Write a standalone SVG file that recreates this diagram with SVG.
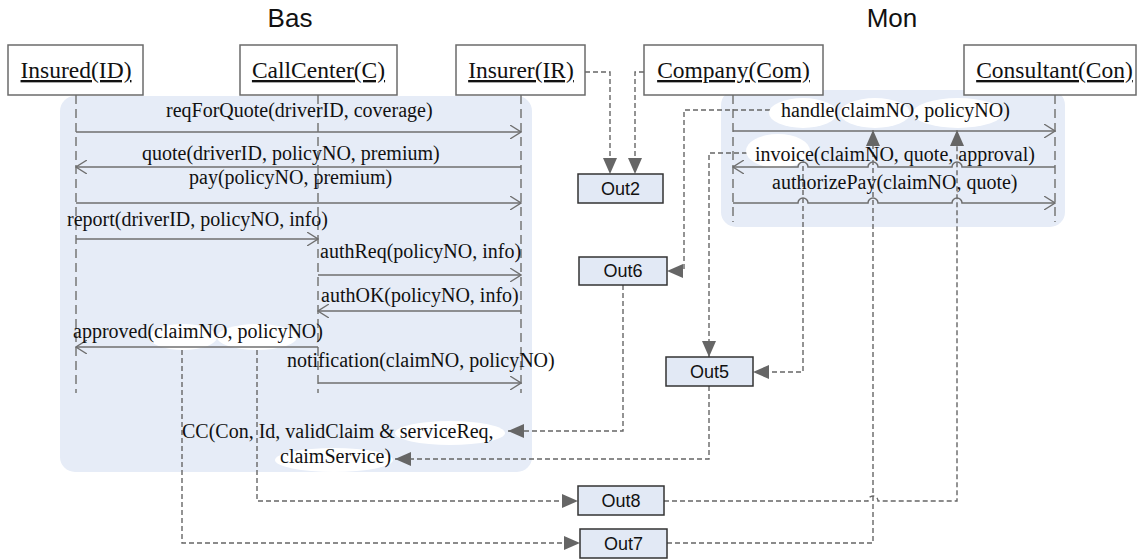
<svg xmlns="http://www.w3.org/2000/svg" width="1140" height="559" viewBox="0 0 1140 559">
  <style>
    .panel { fill: #e6ecf7; }
    .life { fill: #ffffff; stroke: #6b6b6b; stroke-width: 1.5; }
    .lname { font-family: "Liberation Serif", "Times New Roman", serif; font-size: 23.5px; fill: #111; text-anchor: middle; text-decoration: underline; }
    .lifeline { stroke: #777; stroke-width: 1.5; stroke-dasharray: 9 5; fill: none; }
    .msg { stroke: #6f6f6f; stroke-width: 1.5; fill: none; marker-end: url(#open); }
    .mtxt { font-family: "Liberation Serif", "Times New Roman", serif; font-size: 20px; fill: #111; }
    .conn { stroke: #666; stroke-width: 1.4; stroke-dasharray: 5 3; fill: none; marker-end: url(#solid); }
    .hl { fill: #ffffff; }
    .out { fill: #e2e9f5; stroke: #333; stroke-width: 1.5; }
    .otxt { font-family: "Liberation Sans", Arial, sans-serif; font-size: 18px; fill: #111; text-anchor: middle; }
    .title { font-family: "Liberation Sans", Arial, sans-serif; font-size: 26px; fill: #111; text-anchor: middle; }
  </style>
  <defs>
    <marker id="open" viewBox="0 0 12 14" refX="11" refY="7" markerWidth="12" markerHeight="14" markerUnits="userSpaceOnUse" orient="auto">
      <path d="M0,0 L11,7 L0,14" fill="none" stroke="#6f6f6f" stroke-width="1.3"/>
    </marker>
    <marker id="solid" viewBox="0 0 16 14" refX="16" refY="7" markerWidth="16" markerHeight="14" markerUnits="userSpaceOnUse" orient="auto">
      <path d="M0,0 L16,7 L0,14 z" fill="#666" stroke="none"/>
    </marker>
  </defs>

  <!-- titles -->
  <text class="title" x="290" y="27">Bas</text>
  <text class="title" x="892" y="27">Mon</text>

  <!-- background panels -->
  <rect class="panel" x="60" y="96" width="472" height="376" rx="15"/>
  <rect class="panel" x="721" y="90" width="344" height="137" rx="15"/>

  <!-- lifelines -->
  <g id="lifelines">
    <path class="lifeline" d="M76,95 V393"/>
    <path class="lifeline" d="M318,95 V393"/>
    <path class="lifeline" d="M521,95 V393"/>
    <path class="lifeline" d="M733,95 V222"/>
    <path class="lifeline" d="M1055,95 V222"/>
  </g>

  <!-- dashed connectors between labels and Out blocks -->
  <g id="connectors">
    <path class="conn" d="M585,72 H610 V174"/>
    <path class="conn" d="M644,72 H635 V174"/>
    <path class="conn" d="M770,110 H684 V271 H667"/>
    <path class="conn" d="M747,153 H709 V357"/>
    <path class="conn" d="M803,150 V372 H753"/>
    <path class="conn" d="M623,285 V431 H508"/>
    <path class="conn" d="M709,386 V459 H395"/>
    <path class="conn" d="M182,350 V543 H580"/>
    <path class="conn" d="M257,350 V501 H578"/>
    <path class="conn" d="M664,501 H868 A5,5 0 0 1 878,501 H957 V130"/>
    <path class="conn" d="M667,543 H873 V130"/>
  </g>

  <!-- label highlights -->
  <g id="highlights">
    <ellipse class="hl" cx="803" cy="113" rx="34" ry="15"/>
    <ellipse class="hl" cx="875" cy="113" rx="35" ry="15"/>
    <ellipse class="hl" cx="958" cy="113" rx="45" ry="15"/>
    <ellipse class="hl" cx="778" cy="151" rx="32" ry="17"/>
    <ellipse class="hl" cx="183" cy="337" rx="34" ry="13"/>
    <ellipse class="hl" cx="257" cy="337" rx="40" ry="13"/>
    <ellipse class="hl" cx="450" cy="433" rx="55" ry="12"/>
    <ellipse class="hl" cx="334" cy="460" rx="59" ry="12"/>
  </g>

  <!-- messages -->
  <g id="messages">
    <path class="msg" d="M76,132 H521"/>
    <path class="msg" d="M521,167 H76"/>
    <path class="msg" d="M76,203 H521"/>
    <path class="msg" d="M76,239 H318"/>
    <path class="msg" d="M318,275 H521"/>
    <path class="msg" d="M521,311 H318"/>
    <path class="msg" d="M318,347 H76"/>
    <path class="msg" d="M318,383 H521"/>
    <path class="msg" d="M733,131 H1055"/>
    <path class="msg" d="M1055,167 H962 A5,5 0 0 0 952,167 H878 A5,5 0 0 0 868,167 H808 A5,5 0 0 0 798,167 H733"/>
    <path class="msg" d="M733,203 H798 A5,5 0 0 1 808,203 H868 A5,5 0 0 1 878,203 H952 A5,5 0 0 1 962,203 H1055"/>
  </g>

  <g id="message-labels">
    <text class="mtxt" x="166" y="117">reqForQuote(driverID, coverage)</text>
    <text class="mtxt" x="142" y="160">quote(driverID, policyNO, premium)</text>
    <text class="mtxt" x="189" y="184">pay(policyNO, premium)</text>
    <text class="mtxt" x="67" y="226">report(driverID, policyNO, info)</text>
    <text class="mtxt" x="320" y="258">authReq(policyNO, info)</text>
    <text class="mtxt" x="321" y="302">authOK(policyNO, info)</text>
    <text class="mtxt" x="73" y="338">approved(claimNO, policyNO)</text>
    <text class="mtxt" x="287" y="367">notification(claimNO, policyNO)</text>
    <text class="mtxt" x="781" y="117">handle(claimNO, policyNO)</text>
    <text class="mtxt" x="755" y="161">invoice(claimNO, quote, approval)</text>
    <text class="mtxt" x="772" y="189">authorizePay(claimNO, quote)</text>
    <text class="mtxt" x="182" y="438">CC(Con, Id, validClaim &amp; serviceReq,</text>
    <text class="mtxt" x="280" y="463">claimService)</text>
  </g>

  <!-- participants -->
  <g id="insured"><rect class="life" x="8" y="45" width="135" height="50"/><text class="lname" x="76" y="78">Insured(ID)</text></g>
  <g id="callcenter"><rect class="life" x="240" y="45" width="157" height="50"/><text class="lname" x="318.5" y="78">CallCenter(C)</text></g>
  <g id="insurer"><rect class="life" x="456" y="45" width="129" height="50"/><text class="lname" x="521" y="78">Insurer(IR)</text></g>
  <g id="company"><rect class="life" x="644" y="45" width="179" height="50"/><text class="lname" x="733.5" y="78">Company(Com)</text></g>
  <g id="consultant"><rect class="life" x="964" y="45" width="172" height="50"/><text class="lname" x="1054.5" y="78">Consultant(Con)</text></g>

  <!-- output blocks -->
  <g id="out2"><rect class="out" x="578" y="174" width="85" height="29"/><text class="otxt" x="620.5" y="195">Out2</text></g>
  <g id="out6"><rect class="out" x="579" y="257" width="88" height="28"/><text class="otxt" x="623" y="277">Out6</text></g>
  <g id="out5"><rect class="out" x="666" y="357" width="87" height="29"/><text class="otxt" x="709.5" y="378">Out5</text></g>
  <g id="out8"><rect class="out" x="578" y="486" width="86" height="29"/><text class="otxt" x="621" y="507">Out8</text></g>
  <g id="out7"><rect class="out" x="580" y="529" width="87" height="29"/><text class="otxt" x="623.5" y="550">Out7</text></g>
</svg>
